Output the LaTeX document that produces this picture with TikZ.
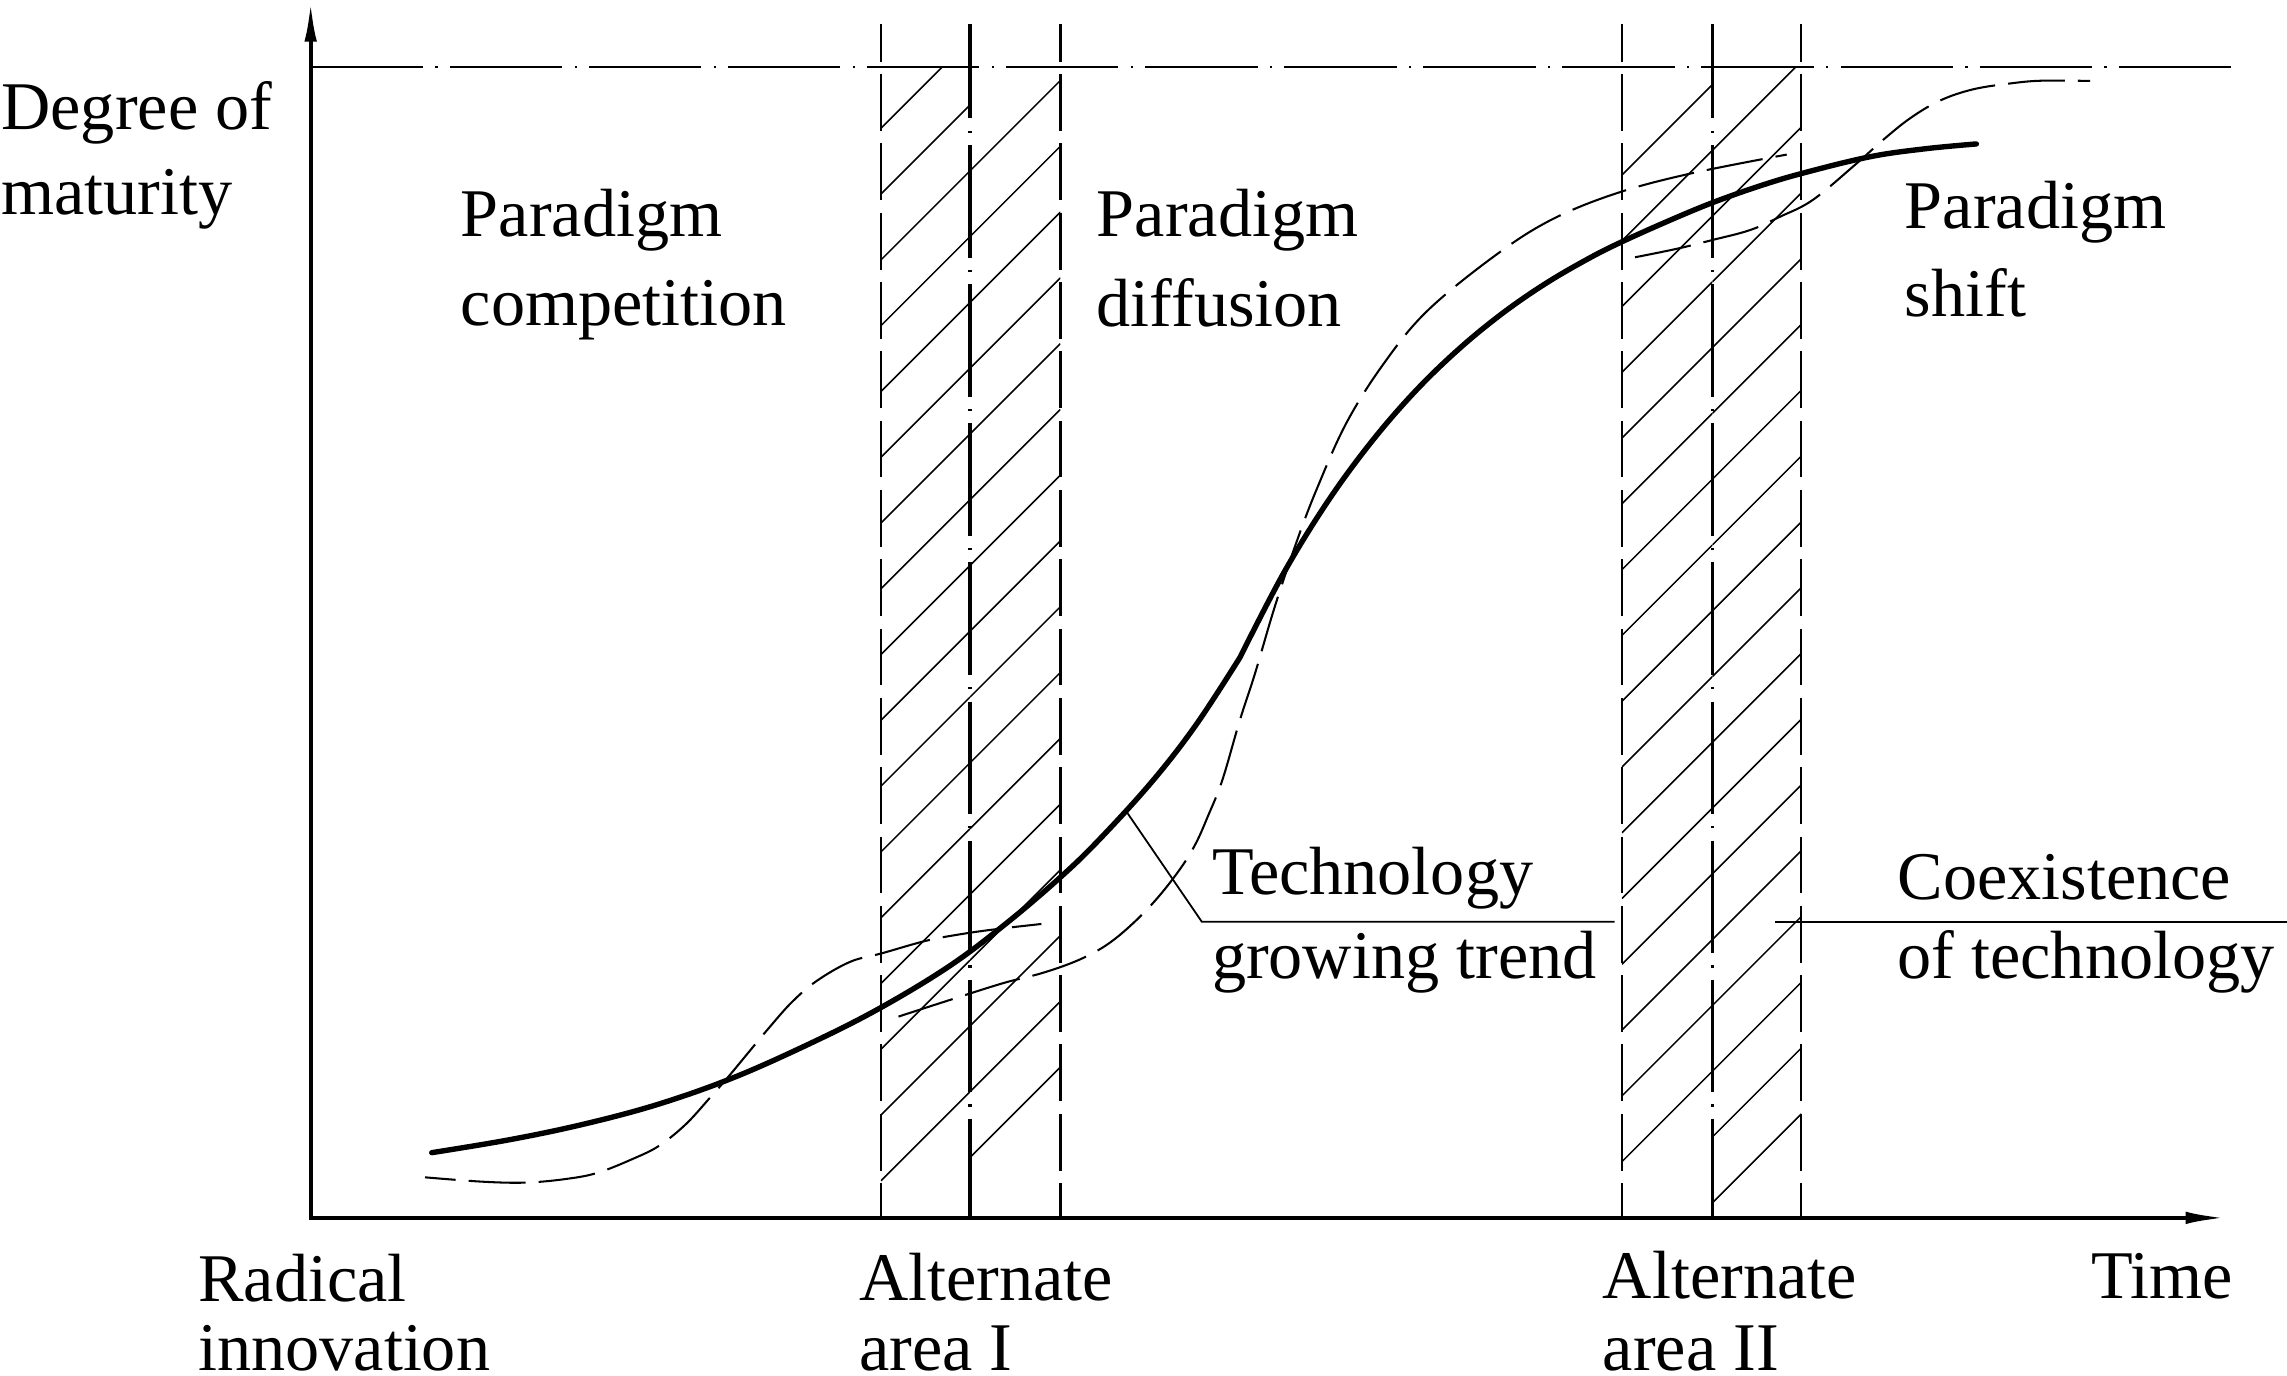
\documentclass[tikz,border=0pt]{standalone}
\usepackage{fontspec}
\setmainfont{Liberation Serif}
\usetikzlibrary{arrows.meta}
\begin{document}
\begin{tikzpicture}[x=0.01cm,y=-0.01cm,
  lbl/.style={anchor=base west, inner sep=0pt, outer sep=0pt, font=\fontsize{13.3pt}{16pt}\selectfont},
  axisline/.style={line width=0.77pt, line join=miter},
  dashdotline/.style={line width=0.4pt, dash pattern=on 0.77cm off 0.085cm on 0.015cm off 0.083cm},
  centerline/.style={line width=0.65pt, dash pattern=on 0.77cm off 0.085cm on 0.015cm off 0.083cm, dash phase=0.125cm},
  sideline/.style={line width=0.45pt, dash pattern=on 0.39cm off 0.085cm, dash phase=0.135cm},
  hatchline/.style={line width=0.3pt},
  trend/.style={line width=1.05pt, line cap=round, line join=round},
  dashcurve/.style={line width=0.4pt, dash pattern=on 0.39cm off 0.09cm},
  leader/.style={line width=0.35pt}
]
\useasboundingbox (0,0) rectangle (1568,943);

% axes
\coordinate (O) at (213,835);
\coordinate (ytip) at (213,1);
\coordinate (xtip) at (1526,835);
\draw[axisline, {Latex[length=2.75mm,width=0.85mm]}-{Latex[length=2.75mm,width=0.85mm]}] (ytip) -- (O) -- (xtip);

% top dash-dot line
\coordinate (topL) at (213,45.7);
\coordinate (topR) at (1530,45.7);
\draw[dashdotline] (topL) -- (topR);

% hatching, area I
\begin{scope}
  \clip (604,45.7) rectangle (665,835);
  \foreach \k in {0,...,16} \draw[hatchline] (604,{88+45.1*\k}) -- ++(61,-61);
\end{scope}
\begin{scope}
  \clip (665,45.7) rectangle (727,835);
  \foreach \k in {2,...,17} \draw[hatchline] (665,{88+45.1*\k-61}) -- ++(62,-62);
\end{scope}
% hatching, area II
\begin{scope}
  \clip (1112,45.7) rectangle (1174,835);
  \foreach \k in {0,...,15} \draw[hatchline] (1112,{120+45.1*\k}) -- ++(62,-62);
\end{scope}
\begin{scope}
  \clip (1174,45.7) rectangle (1235,835);
  \foreach \k in {1,...,17} \draw[hatchline] (1174,{120+45.1*\k-62}) -- ++(61,-61);
\end{scope}

% vertical lines
\foreach \xx in {604,727,1112,1235} \draw[sideline] (\xx,16.7) -- (\xx,835);
\foreach \xx in {665,1174} \draw[centerline] (\xx,16.7) -- (\xx,835);

% technology growing trend (bold)
\draw[trend] plot[smooth, tension=0.6] coordinates {(296,790.3) (350,781.3) (400,770.8) (450,757.5) (500,740) (550,718) (600,693) (650,663) (690,633) (727,601.5) (754,575.3) (790,535.7) (820,497) (850,451)}
  -- plot[smooth, tension=0.6] coordinates {(850,451) (880,393.1) (910,344.3) (940,303.3) (970,268.6) (1000,239.5) (1030,214.9) (1060,194.2) (1090,176.8) (1113,165.3) (1145,151) (1174,139) (1205,128) (1235,119) (1282,107.5) (1320,102) (1355,98.7)};

% dashed curves
\draw[dashcurve, dash phase=0.18cm] plot[smooth, tension=0.6] coordinates {(291.4,807.2) (331,810.2) (361,810.8) (389,808.2) (410,804) (434,794.5) (452,785.5) (470,771) (486,753.5) (500,737.5) (512,723) (527,705) (543,687) (560,672.5) (583,659.4) (605,653.5) (635,645) (660,640.3) (685,636.8) (714,633.5)};
\draw[dashcurve] plot[smooth, tension=0.6] coordinates {(616,697) (650,686) (688,674) (715,667) (740,658) (760,647) (779,631) (795,614) (810,594.5) (820,578) (828,560) (838,535) (850,494) (860.5,461.6) (874,416) (889,371.4) (903,334.8) (923,290.2) (948,250.3) (978,213.7) (1024,176) (1063,151) (1108,132.6) (1159,119) (1225,106)};
\draw[dashcurve] plot[smooth, tension=0.6] coordinates {(1121,176.4) (1150,170.5) (1174.3,164.5) (1200,157.7) (1220.4,148.6) (1243,137) (1273,112) (1291,96) (1309.6,81.1) (1330,69) (1353,61.2) (1380,57) (1401,55.3) (1433,55.5)};

% leader lines
\coordinate (tp) at (772,556);
\coordinate (tk) at (824,632);
\coordinate (te) at (1107,632);
\draw[leader] (tp) -- (tk) -- (te);
\coordinate (cs) at (1217,632);
\coordinate (ce) at (1568,632);
\draw[leader] (cs) -- (ce);

% labels
\node[lbl] (deg1) at (1,89.1) {Degree of};
\node[lbl] (deg2) at (1,147.4) {maturity};
\node[lbl] (pc1) at (316,162.3) {Paradigm};
\node[lbl] (pc2) at (316,223) {competition};
\node[lbl] (pd1) at (752,162.3) {Paradigm};
\node[lbl] (pd2) at (752,224) {diffusion};
\node[lbl] (ps1) at (1306,156.5) {Paradigm};
\node[lbl] (ps2) at (1306,217) {shift};
\node[lbl] (tg1) at (831,613.6) {Technology};
\node[lbl] (tg2) at (831,670.7) {growing trend};
\node[lbl] (ct1) at (1301,617) {Coexistence};
\node[lbl] (ct2) at (1301,670.7) {of technology};
\node[lbl] (ri1) at (136,892.5) {Radical};
\node[lbl] (ri2) at (136,939.3) {innovation};
\node[lbl] (a11) at (589,891.5) {Alternate};
\node[lbl] (a12) at (589,939.3) {area I};
\node[lbl] (a21) at (1099,890.5) {Alternate};
\node[lbl] (a22) at (1099,939.3) {area II};
\node[lbl] (time) at (1434,890) {Time};
\end{tikzpicture}
\end{document}
